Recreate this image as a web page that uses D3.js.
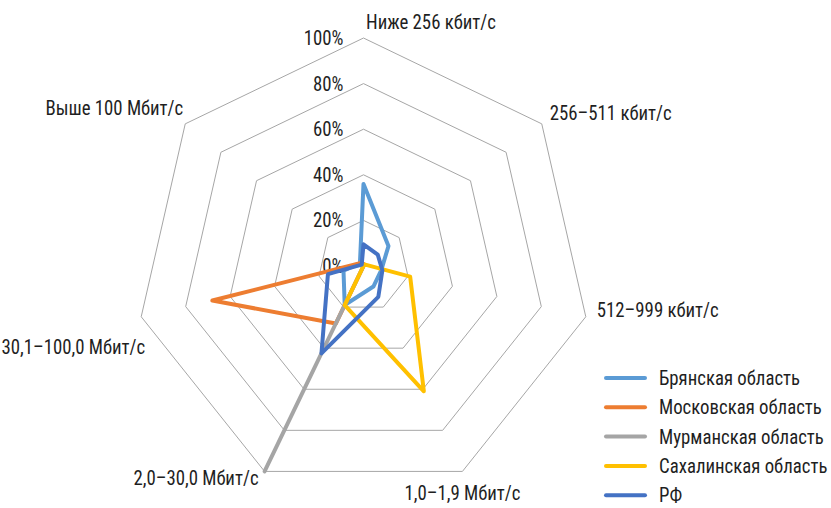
<!DOCTYPE html>
<html>
<head>
<meta charset="utf-8">
<script src="https://cdn.jsdelivr.net/npm/d3@7"></script>
<style>
  body { margin: 0; background: #fff; }
  svg text { font-family: "Roboto Condensed", "Roboto", sans-serif; fill: #1f1f1f; }
</style>
</head>
<body>
<svg width="831" height="508"></svg>
<script>
// категории (оси) радара
var categories = ["Ниже 256 кбит/с", "256–511 кбит/с", "512–999 кбит/с", "1,0–1,9 Мбит/с",
                  "2,0–30,0 Мбит/с", "30,1–100,0 Мбит/с", "Выше 100 Мбит/с"];
var seriesNames = ["Брянская область", "Московская область", "Мурманская область", "Сахалинская область", "РФ"];
// значения, %
var bryansk   = [36, 14, 8, 10, 19, 9, 2];
var moscow    = [1, 0, 0, 0, 28, 68, 2];
var murmansk  = [0, 0, 0, 0, 100, 0, 0];
var sakhalin  = [0, 1, 21, 61, 19, 0, 0];
var rf        = [9.5, 8, 8.5, 15, 42.5, 16, 1];
var tickValues = [0, 20, 40, 60, 80, 100];

var colors = ["#5b9bd5", "#ed7d31", "#a5a5a5", "#ffc000", "#4472c4"];
var series = [bryansk, moscow, murmansk, sakhalin, rf];

var svg = d3.select("svg"),
    cx = 363.5, cy = 266,
    sx = 0.94,   // шрифт в оригинале узкий — чуть сжимаем по горизонтали
    g = svg.append("g").attr("transform", "translate(" + cx + "," + cy + ")");

var r = d3.scaleLinear().domain([0, 100]).range([0, 228]);
var angle = d3.scaleLinear().domain([0, categories.length]).range([0, 2 * Math.PI]);

function pt(i, v) {
  var a = angle(i);
  return [r(v) * Math.sin(a), -r(v) * Math.cos(a)];
}

function place(x, y) {
  return "translate(" + x + "," + y + ") scale(" + sx + ",1)";
}

// сетка
var ring = d3.lineRadial()
    .angle(function(d, i) { return angle(i); })
    .radius(function(d) { return r(d); })
    .curve(d3.curveLinearClosed);

g.append("g")
  .selectAll("path")
  .data(tickValues)
  .enter().append("path")
   .attr("d", function(t) { return ring(categories.map(function() { return t; })); })
   .attr("fill", "none")
   .attr("stroke", "#a6a6a6")
   .attr("stroke-width", 1);

// подписи шкалы
g.append("g")
  .selectAll("text")
  .data(tickValues)
  .enter().append("text")
   .attr("transform", function(t) { return place(-20, -r(t)); })
   .attr("dy", "0.35em")
   .attr("text-anchor", "end")
   .attr("font-size", 20)
   .text(function(t) { return t + "%"; });

// подписи категорий
var labelPos = [
  {anchor: "start", dx: 2.5, dy: -16},
  {anchor: "start", dx: 8, dy: -11},
  {anchor: "start", dx: 11, dy: -7},
  {anchor: "middle", dx: 0, dy: 22},
  {anchor: "end", dx: -6, dy: 7},
  {anchor: "end", dx: 4, dy: 30},
  {anchor: "end", dx: -2, dy: -16}
];

g.append("g")
  .selectAll("text")
  .data(categories)
  .enter().append("text")
   .attr("transform", function(d, i) {
     var p = pt(i, 100);
     return place(p[0] + labelPos[i].dx, p[1] + labelPos[i].dy);
   })
   .attr("dy", "0.35em")
   .attr("text-anchor", function(d, i) { return labelPos[i].anchor; })
   .attr("font-size", 20)
   .text(function(d) { return d; });

// серии
g.append("g")
  .selectAll("path")
  .data(series)
  .enter().append("path")
   .attr("d", ring)
   .attr("fill", "none")
   .attr("stroke", function(d, i) { return colors[i]; })
   .attr("stroke-width", 4)
   .attr("stroke-linejoin", "round");

// легенда
var legend = svg.append("g")
   .attr("transform", "translate(604,378)")
  .selectAll("g")
  .data(seriesNames)
  .enter().append("g")
   .attr("transform", function(d, i) { return "translate(0," + i * 29.3 + ")"; });

legend.append("line")
   .attr("x1", 2).attr("x2", 41)
   .attr("stroke", function(d, i) { return colors[i]; })
   .attr("stroke-width", 4)
   .attr("stroke-linecap", "round");

legend.append("text")
   .attr("transform", place(55, 0))
   .attr("dy", "0.35em")
   .attr("font-size", 20)
   .text(function(d) { return d; });
</script>
</body>
</html>
